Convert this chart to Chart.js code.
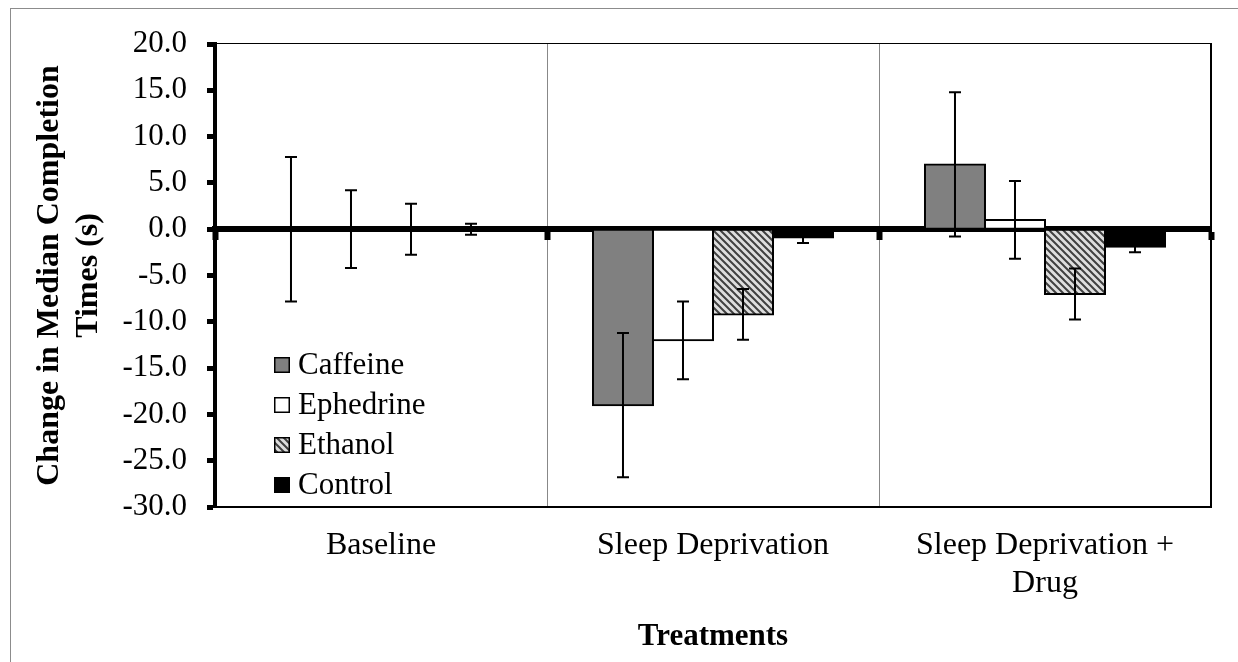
<!DOCTYPE html>
<html>
<head>
<meta charset="utf-8">
<script src="https://cdn.jsdelivr.net/npm/chart.js@4/dist/chart.umd.min.js"></script>
<style>
  body { margin: 0; overflow: hidden; background: #fff; }
  #frame { position: absolute; left: 10px; top: 8px; width: 1300px; height: 700px; border: 1px solid #8c8c8c; }
  #wrap { position: absolute; left: 0; top: 0; width: 1238px; height: 662px; }
</style>
</head>
<body>
<div id="frame"></div>
<div id="wrap"><canvas id="chart"></canvas></div>
<script>
// Values
const categories = ["Baseline", "Sleep Deprivation", ["Sleep Deprivation +", "Drug"]];
const caffeine = [0, -19.0, 7.0];
const ephedrine = [0, -12.0, 1.0];
const ethanol = [0, -9.2, -7.0];
const control = [0, -0.9, -1.9];
const caffeineErr = [7.8, 7.8, 7.8];
const ephedrineErr = [4.2, 4.2, 4.2];
const ethanolErr = [2.75, 2.75, 2.75];
const controlErr = [0.6, 0.6, 0.6];
const yMin = -30, yMax = 20, yStep = 5;

Chart.defaults.font.family = "'Liberation Serif', 'Times New Roman', serif";
Chart.defaults.font.size = 31;
Chart.defaults.color = "#000";

// wide downward diagonal fill for Ethanol
function hatch() {
  const c = document.createElement("canvas");
  c.width = 7; c.height = 7;
  const g = c.getContext("2d");
  g.fillStyle = "#dedede";
  g.fillRect(0, 0, 7, 7);
  g.strokeStyle = "#404040";
  g.lineWidth = 2;
  g.beginPath();
  g.moveTo(-2, -2); g.lineTo(9, 9);
  g.moveTo(-2, 5); g.lineTo(2, 9);
  g.moveTo(5, -2); g.lineTo(9, 2);
  g.stroke();
  return g.createPattern(c, "repeat");
}

// error bars drawn through the y scale
const errorBars = {
  id: "errorBars",
  afterDatasetsDraw(chart) {
    const ctx = chart.ctx;
    const y = chart.scales.y;
    ctx.save();
    ctx.strokeStyle = "#000";
    ctx.lineWidth = 2;
    chart.data.datasets.forEach((ds, i) => {
      chart.getDatasetMeta(i).data.forEach((bar, j) => {
        const v = ds.data[j], e = ds.errors[j];
        const top = y.getPixelForValue(v + e);
        const bot = y.getPixelForValue(v - e);
        ctx.beginPath();
        ctx.moveTo(bar.x, top); ctx.lineTo(bar.x, bot);
        ctx.moveTo(bar.x - 6, top); ctx.lineTo(bar.x + 6, top);
        ctx.moveTo(bar.x - 6, bot); ctx.lineTo(bar.x + 6, bot);
        ctx.stroke();
      });
    });
    ctx.restore();
  }
};

// top and right edges of the plot area
const plotFrame = {
  id: "plotFrame",
  afterDraw(chart) {
    const { ctx, chartArea: a } = chart;
    ctx.save();
    ctx.strokeStyle = "#000";
    ctx.lineWidth = 1;
    ctx.beginPath();
    ctx.moveTo(a.left, a.top - 0.5); ctx.lineTo(a.right, a.top - 0.5);
    ctx.stroke();
    ctx.lineWidth = 2;
    ctx.beginPath();
    ctx.moveTo(a.right, a.top - 1); ctx.lineTo(a.right, a.bottom);
    ctx.stroke();
    ctx.restore();
  }
};

// legend sitting inside the plot, lower left
const insideLegend = {
  id: "insideLegend",
  afterDraw(chart) {
    const ctx = chart.ctx;
    const x = 274, y0 = 365, gap = 40, box = 16;
    ctx.save();
    ctx.font = "31px 'Liberation Serif', 'Times New Roman', serif";
    ctx.textBaseline = "middle";
    chart.data.datasets.forEach((ds, i) => {
      const cy = y0 + i * gap;
      ctx.fillStyle = ds.backgroundColor;
      ctx.fillRect(x, cy - box / 2, box, box);
      ctx.strokeStyle = "#000";
      ctx.lineWidth = 1.5;
      ctx.strokeRect(x + 0.75, cy - box / 2 + 0.75, box - 1.5, box - 1.5);
      ctx.fillStyle = "#000";
      ctx.fillText(ds.label, 298, cy + 1);
    });
    ctx.restore();
  }
};

const barStyle = { borderColor: "#000", borderWidth: 2, borderSkipped: false, inflateAmount: 1,
  barPercentage: 1.0, categoryPercentage: 0.723 };

new Chart(document.getElementById("chart"), {
  type: "bar",
  data: {
    labels: categories,
    datasets: [
      { label: "Caffeine", data: caffeine, errors: caffeineErr, backgroundColor: "#808080", ...barStyle },
      { label: "Ephedrine", data: ephedrine, errors: ephedrineErr, backgroundColor: "#ffffff", ...barStyle },
      { label: "Ethanol", data: ethanol, errors: ethanolErr, backgroundColor: hatch(), ...barStyle },
      { label: "Control", data: control, errors: controlErr, backgroundColor: "#000000", ...barStyle }
    ]
  },
  options: {
    responsive: true,
    maintainAspectRatio: false,
    animation: false,
    layout: { padding: { top: 44, right: 27, bottom: 0, left: 0 } },
    plugins: { legend: { display: false }, tooltip: { enabled: false } },
    scales: {
      x: {
        offset: true,
        grid: { offset: true, color: "#888", lineWidth: 1, drawTicks: false },
        border: { display: true, color: "#000", width: 2 },
        ticks: { padding: 19, maxRotation: 0, autoSkip: false, font: { size: 32 } },
        title: { display: true, text: "Treatments", font: { size: 31, weight: "bold" }, padding: { top: 0, bottom: 6 } },
        afterFit(scale) { scale.height = 155; }
      },
      x2: {
        type: "category",
        position: { y: 0 },
        offset: true,
        z: 1,
        grid: { offset: true, drawOnChartArea: false, drawTicks: true, tickLength: 8, tickWidth: 6, tickColor: "#000" },
        border: { display: true, color: "#000", width: 6 },
        ticks: { display: false }
      },
      y: {
        min: yMin,
        max: yMax,
        grid: { drawOnChartArea: false, drawTicks: true, tickLength: 8, tickWidth: 5, tickColor: "#000" },
        border: { display: true, color: "#000", width: 4 },
        ticks: { stepSize: yStep, padding: 20, callback: v => v.toFixed(1) },
        title: { display: true, text: ["Change in Median Completion", "Times (s)"], font: { size: 32, weight: "bold" }, padding: { top: 31, bottom: 0 } },
        afterFit(scale) { scale.width = 215; }
      }
    }
  },
  plugins: [errorBars, plotFrame, insideLegend]
});
</script>
</body>
</html>
